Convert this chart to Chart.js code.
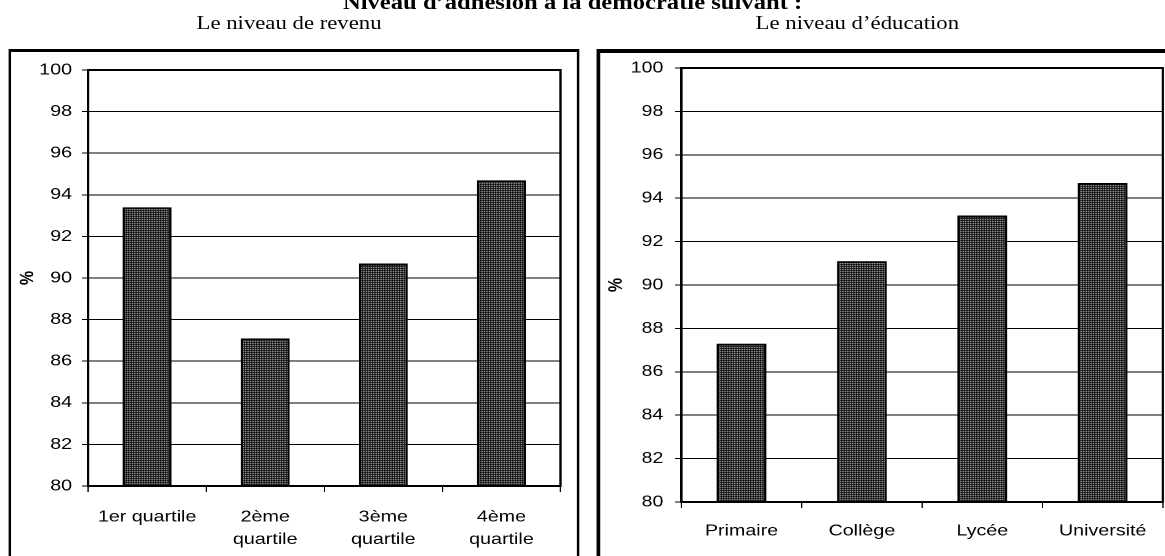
<!DOCTYPE html>
<html>
<head>
<meta charset="utf-8">
<script src="https://cdn.jsdelivr.net/npm/chart.js@4/dist/chart.umd.min.js"></script>
<style>
  html, body { margin: 0; padding: 0; background: #fff; overflow: hidden; }
  body { width: 1165px; height: 556px; position: relative; }
  #stage { position: absolute; left: 0; top: 0; width: 947px; height: 556px;
           transform: scaleX(1.23); transform-origin: 0 0; }
  .title { position: absolute; left: 8px; width: 915px; top: -9px; text-align: center;
           font: bold 20px "Liberation Serif", "Times New Roman", serif; color: #000; white-space: nowrap; }
  .sub { position: absolute; top: 13px; width: 300px; text-align: center;
         font: 18.5px "Liberation Serif", "Times New Roman", serif; color: #000; white-space: nowrap; }
  .box { position: absolute; border-style: solid; border-color: #000; box-sizing: border-box; }
  .wrap { position: absolute; top: 0; height: 556px; }
</style>
</head>
<body>
<div id="stage">
  <div class="title">Niveau d’adhésion à la démocratie suivant :</div>
  <div class="sub" style="left:85px;">Le niveau de revenu</div>
  <div class="sub" style="left:547px;">Le niveau d’éducation</div>
  <div class="box" style="left:6.5px; top:49px; width:464px; height:530px; border-width:3px 2.4px;"></div>
  <div class="box" style="left:485px; top:49px; width:500px; height:530px; border-width:4px 3.2px;"></div>
  <div class="wrap" style="left:0; width:471.5px;"><canvas id="c1"></canvas></div>
  <div class="wrap" style="left:479.7px; width:467.5px;"><canvas id="c2"></canvas></div>
</div>
<script>
// ---- data ----
const revenuLabels = ['1er quartile', ['2ème', 'quartile'], ['3ème', 'quartile'], ['4ème', 'quartile']];
const revenuValues = [93.4, 87.1, 90.7, 94.7];
const educationLabels = ['Primaire', 'Collège', 'Lycée', 'Université'];
const educationValues = [87.3, 91.1, 93.2, 94.7];
const yMin = 80;
const yMax = 100;
const yStep = 2;
const yTitle = '%';

// ---- style helpers ----
function makePattern() {
  const t = document.createElement('canvas');
  t.width = 2; t.height = 2;
  const g = t.getContext('2d');
  g.fillStyle = '#000'; g.fillRect(0, 0, 2, 2);
  g.fillStyle = '#fff'; g.fillRect(1, 1, 1, 1);
  return g.createPattern(t, 'repeat');
}
const pattern = makePattern();

const frame = {
  id: 'frame',
  afterDatasetsDraw(chart) {
    const a = chart.chartArea, ctx = chart.ctx;
    ctx.save();
    ctx.strokeStyle = '#000';
    ctx.lineWidth = 2;
    ctx.strokeRect(a.left, a.top, a.right - a.left, a.bottom - a.top);
    ctx.restore();
  }
};

Chart.defaults.font.family = '"Liberation Sans", Arial, sans-serif';
Chart.defaults.color = '#000';

function build(id, labels, values, cfg) {
  return new Chart(document.getElementById(id), {
    type: 'bar',
    data: {
      labels: labels,
      datasets: [{
        data: values,
        backgroundColor: pattern,
        borderColor: '#000',
        borderWidth: 2,
        borderSkipped: false,
        barPercentage: 0.415,
        categoryPercentage: 1.0
      }]
    },
    options: {
      responsive: true,
      maintainAspectRatio: false,
      devicePixelRatio: 2,
      animation: false,
      events: [],
      layout: { padding: { left: 0, right: cfg.padRight, top: cfg.top, bottom: 0 } },
      plugins: { legend: { display: false }, tooltip: { enabled: false }, title: { display: false } },
      scales: {
        x: {
          afterFit(s) { s.height = cfg.xHeight; },
          grid: { offset: true, drawOnChartArea: false, drawTicks: true, tickLength: 6, color: '#000', lineWidth: 1 },
          border: { display: true, color: '#000', width: 2 },
          ticks: { font: { size: 16, lineHeight: 1.4 }, color: '#000', padding: cfg.xPad, maxRotation: 0, autoSkip: false }
        },
        y: {
          min: yMin, max: yMax,
          afterFit(s) { s.width = cfg.yWidth; },
          grid: { color: '#000', lineWidth: 1, tickLength: 5, drawTicks: true },
          border: { display: true, color: '#000', width: 2 },
          ticks: { stepSize: yStep, font: { size: 16 }, color: '#000', padding: cfg.yPad },
          title: { display: true, text: yTitle, font: { size: 16, weight: 'bold' }, color: '#000', padding: { top: cfg.titlePad, bottom: 0 } }
        }
      }
    },
    plugins: [frame]
  });
}

build('c1', revenuLabels, revenuValues, { padRight: 16.3, top: 70, xHeight: 70, xPad: 14, yWidth: 71.5, yPad: 8, titlePad: 13 });
build('c2', educationLabels, educationValues, { padRight: 1.6, top: 68, xHeight: 54, xPad: 12, yWidth: 74, yPad: 9.6, titlePad: 11.5 });
</script>
</body>
</html>
